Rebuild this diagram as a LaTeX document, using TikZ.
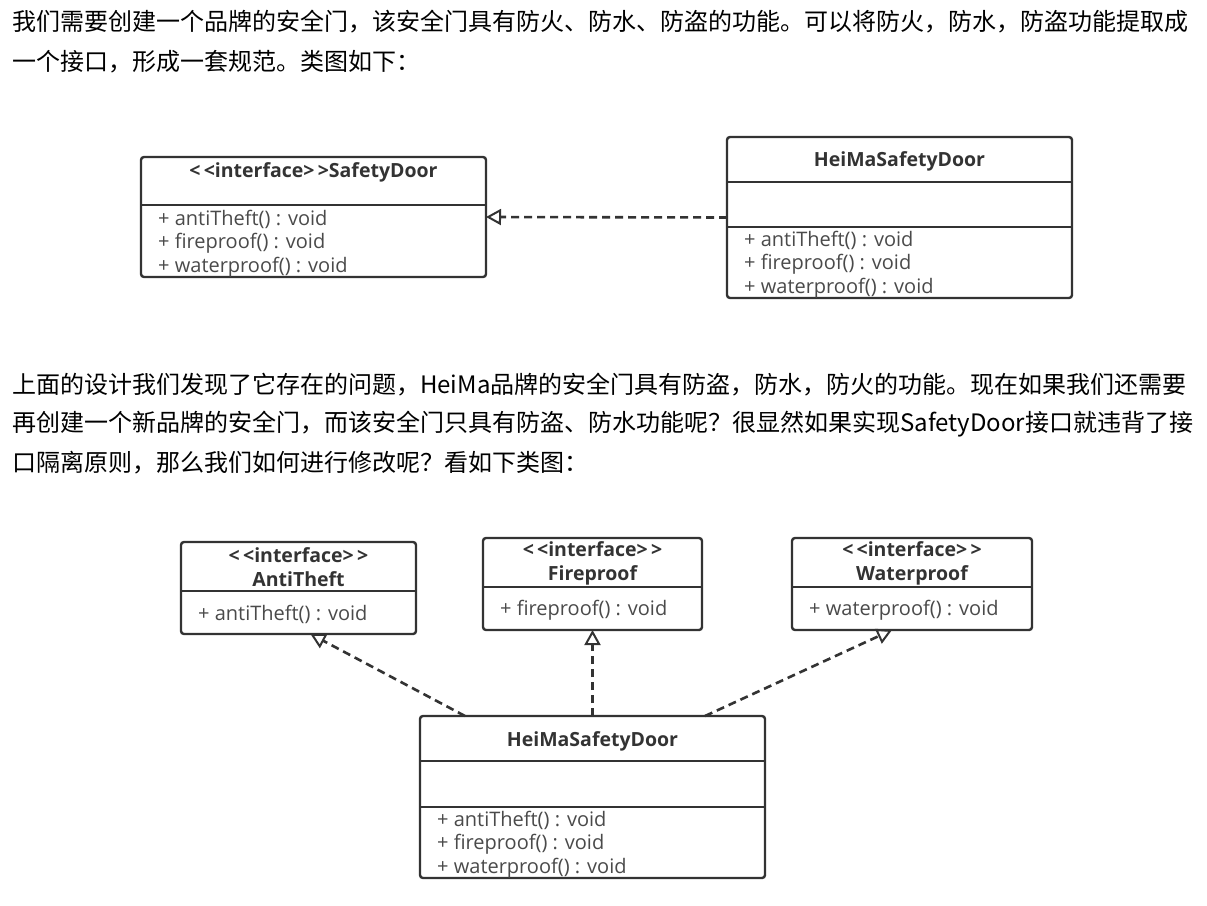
\documentclass[tikz,border=0pt]{standalone}
\usepackage{fontspec}
\setmainfont{Open Sans}
\newfontfamily\cjk{Noto Sans CJK SC}
\usetikzlibrary{arrows.meta}
\definecolor{umlline}{HTML}{333333}
\definecolor{umltext}{HTML}{4a4a4a}
\newcommand{\stereo}{<\,<interface>\,>}
\tikzset{
	cls/.style={draw=umlline, line width=2.4pt, rounded corners=3pt, anchor=north west, inner sep=0pt, outer sep=0pt},
	sep/.style={draw=umlline, line width=2.4pt},
	ttl/.style={font=\fontsize{19.5}{24}\selectfont\bfseries, text=umlline, inner sep=0pt, align=center},
	mth/.style={font=\fontsize{20}{24}\selectfont, text=umltext, anchor=west, inner sep=0pt},
	para/.style={font=\cjk\fontsize{24}{26}\selectfont, anchor=west, inner sep=0pt, text=black},
	impl/.style={draw=umlline, line width=2.6pt, dash pattern=on 8pt off 5pt, -{Triangle[open, length=15pt, width=16pt, line width=2pt]}}
}
\begin{document}
\begin{tikzpicture}[x=1pt, y=-1pt]
	\useasboundingbox[fill=white] (0,0) rectangle (1207,905);
	
	% text
	\node[para] (t1) at (12,22) {我们需要创建一个品牌的安全门，该安全门具有防火、防水、防盗的功能。可以将防火，防水，防盗功能提取成};
	\node[para] (t2) at (12,62) {一个接口，形成一套规范。类图如下：};
	\node[para] (t3) at (12,385) {上面的设计我们发现了它存在的问题，HeiMa品牌的安全门具有防盗，防水，防火的功能。现在如果我们还需要};
	\node[para] (t4) at (12,424) {再创建一个新品牌的安全门，而该安全门只具有防盗、防水功能呢？很显然如果实现SafetyDoor接口就违背了接};
	\node[para] (t5) at (12,463) {口隔离原则，那么我们如何进行修改呢？看如下类图：};
	
	% first diagram
	\node[cls, minimum width=345pt, minimum height=120pt] (sd) at (141,157) {};
	\draw[sep] (sd.west |- 0,205) -- (sd.east |- 0,205);
	\node[ttl] (sdname) at (sd.north |- 0,172) {\stereo SafetyDoor};
	\node[mth] (sdm1) at (158,219) {+ antiTheft() : void};
	\node[mth] (sdm2) at (158,243) {+ fireproof() : void};
	\node[mth] (sdm3) at (158,267) {+ waterproof() : void};
	
	\node[cls, minimum width=345pt, minimum height=161pt] (hm) at (727,137) {};
	\draw[sep] (hm.west |- 0,182) -- (hm.east |- 0,182);
	\draw[sep] (hm.west |- 0,227) -- (hm.east |- 0,227);
	\node[ttl] (hmname) at (hm.north |- 0,161) {HeiMaSafetyDoor};
	\node[mth] (hmm1) at (744,240) {+ antiTheft() : void};
	\node[mth] (hmm2) at (744,264) {+ fireproof() : void};
	\node[mth] (hmm3) at (744,288) {+ waterproof() : void};
	
	\draw[impl] (hm.west) -- (sd.east);
	
	% second diagram
	\node[cls, minimum width=235pt, minimum height=92pt] (anti) at (181,542) {};
	\draw[sep] (anti.west |- 0,591) -- (anti.east |- 0,591);
	\node[ttl] (antiname) at (anti.north |- 0,567) {\stereo\\AntiTheft};
	\node[mth] (antim) at (198,614) {+ antiTheft() : void};
	
	\node[cls, minimum width=219pt, minimum height=92pt] (fire) at (483,538) {};
	\draw[sep] (fire.west |- 0,587) -- (fire.east |- 0,587);
	\node[ttl] (firename) at (fire.north |- 0,563) {\stereo\\Fireproof};
	\node[mth] (firem) at (500,610) {+ fireproof() : void};
	
	\node[cls, minimum width=240pt, minimum height=92pt] (water) at (792,538) {};
	\draw[sep] (water.west |- 0,587) -- (water.east |- 0,587);
	\node[ttl] (watername) at (water.north |- 0,563) {\stereo\\Waterproof};
	\node[mth] (waterm) at (809,610) {+ waterproof() : void};
	
	\node[cls, minimum width=345pt, minimum height=162pt] (hm2) at (420,716) {};
	\draw[sep] (hm2.west |- 0,761) -- (hm2.east |- 0,761);
	\draw[sep] (hm2.west |- 0,807) -- (hm2.east |- 0,807);
	\node[ttl] (hm2name) at (hm2.north |- 0,741) {HeiMaSafetyDoor};
	\node[mth] (hm2m1) at (437,820) {+ antiTheft() : void};
	\node[mth] (hm2m2) at (437,844) {+ fireproof() : void};
	\node[mth] (hm2m3) at (437,868) {+ waterproof() : void};
	
	\draw[impl] ([xshift=45pt]hm2.north west) -- ([xshift=12pt]anti.south);
	\draw[impl] (hm2.north) -- (fire.south -| hm2.north);
	\draw[impl] ([xshift=-60pt]hm2.north east) -- ([xshift=-20pt]water.south);
\end{tikzpicture}
\end{document}
